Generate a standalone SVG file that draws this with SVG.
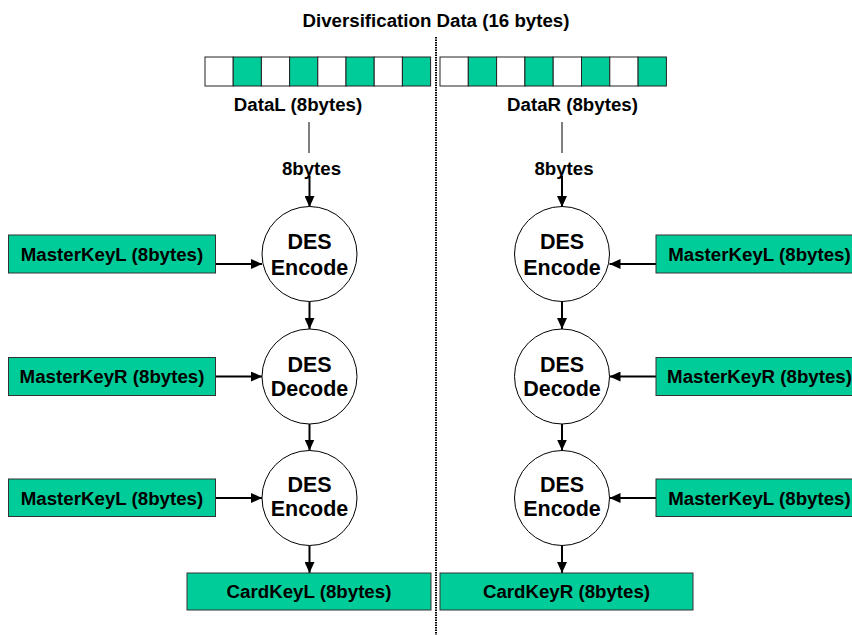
<svg xmlns="http://www.w3.org/2000/svg" width="852" height="635" viewBox="0 0 852 635">
<style>
text{font-family:"Liberation Sans",Arial,sans-serif;font-weight:bold;fill:#000;text-anchor:middle}
.lbl{font-size:18.7px}
.des{font-size:21.5px}
.box{fill:#00CC99;stroke:#333;stroke-width:1}
.cell{stroke:#222;stroke-width:1}
.g{fill:#00CC99}
.w{fill:#fff}
.circ{fill:#fff;stroke:#000;stroke-width:1}
.conn line{stroke:#000;stroke-width:2}
.conn line.thin{stroke-width:1}
</style>
<defs>
<marker id="arr" markerUnits="userSpaceOnUse" markerWidth="12" markerHeight="10" refX="11" refY="5" orient="auto">
<path d="M0,0 L11,5 L0,10 Z" fill="#000"/>
</marker>
</defs>
<rect width="852" height="635" fill="#fff"/>
<text id="title" class="lbl" x="436" y="27">Diversification Data (16 bytes)</text>
<line x1="436" y1="37" x2="436" y2="635" stroke="#000" stroke-width="2" stroke-dasharray="1.5,1"/>

<g id="dataL">
<rect class="cell w" x="205" y="57" width="28.2" height="29"/>
<rect class="cell g" x="233.2" y="57" width="28.2" height="29"/>
<rect class="cell w" x="261.4" y="57" width="28.2" height="29"/>
<rect class="cell g" x="289.6" y="57" width="28.2" height="29"/>
<rect class="cell w" x="317.8" y="57" width="28.2" height="29"/>
<rect class="cell g" x="346" y="57" width="28.2" height="29"/>
<rect class="cell w" x="374.2" y="57" width="28.2" height="29"/>
<rect class="cell g" x="402.4" y="57" width="28.2" height="29"/>
<text class="lbl" x="298" y="111">DataL (8bytes)</text>
</g>
<g id="dataR">
<rect class="cell w" x="440" y="57" width="28.3" height="29"/>
<rect class="cell g" x="468.3" y="57" width="28.3" height="29"/>
<rect class="cell w" x="496.6" y="57" width="28.3" height="29"/>
<rect class="cell g" x="524.9" y="57" width="28.3" height="29"/>
<rect class="cell w" x="553.2" y="57" width="28.3" height="29"/>
<rect class="cell g" x="581.5" y="57" width="28.3" height="29"/>
<rect class="cell w" x="609.8" y="57" width="28.3" height="29"/>
<rect class="cell g" x="638.1" y="57" width="28.3" height="29"/>
<text class="lbl" x="572.5" y="111">DataR (8bytes)</text>
</g>

<g class="conn">
<line class="thin" x1="309" y1="122" x2="309" y2="153"/>
<line x1="309.5" y1="176" x2="309.5" y2="207" marker-end="url(#arr)"/>
<line x1="309.5" y1="301.5" x2="309.5" y2="329" marker-end="url(#arr)"/>
<line x1="309.5" y1="424" x2="309.5" y2="450.5" marker-end="url(#arr)"/>
<line x1="309.5" y1="545.5" x2="309.5" y2="573" marker-end="url(#arr)"/>
<line x1="215" y1="264" x2="262" y2="264" marker-end="url(#arr)"/>
<line x1="215" y1="376.5" x2="262" y2="376.5" marker-end="url(#arr)"/>
<line x1="215" y1="498" x2="262" y2="498" marker-end="url(#arr)"/>
<line class="thin" x1="562" y1="122" x2="562" y2="153"/>
<line x1="562" y1="176" x2="562" y2="207" marker-end="url(#arr)"/>
<line x1="562" y1="301.5" x2="562" y2="329" marker-end="url(#arr)"/>
<line x1="562" y1="424" x2="562" y2="450.5" marker-end="url(#arr)"/>
<line x1="562" y1="545.5" x2="562" y2="573" marker-end="url(#arr)"/>
<line x1="656" y1="264" x2="609.5" y2="264" marker-end="url(#arr)"/>
<line x1="656" y1="376.5" x2="609.5" y2="376.5" marker-end="url(#arr)"/>
<line x1="656" y1="498" x2="609.5" y2="498" marker-end="url(#arr)"/>
</g>

<text class="lbl" x="311.5" y="175">8bytes</text>
<text class="lbl" x="564" y="175">8bytes</text>

<g id="encL1"><circle class="circ" cx="309.5" cy="254" r="47.5"/><text class="des" x="309.5" y="249">DES</text><text class="des" x="309.5" y="274.5">Encode</text></g>
<g id="decL"><circle class="circ" cx="309.5" cy="376.5" r="47.5"/><text class="des" x="309.5" y="371.5">DES</text><text class="des" x="309.5" y="395.5">Decode</text></g>
<g id="encL2"><circle class="circ" cx="309.5" cy="498" r="47.5"/><text class="des" x="309.5" y="492">DES</text><text class="des" x="309.5" y="516">Encode</text></g>
<g id="encR1"><circle class="circ" cx="562" cy="254" r="47.5"/><text class="des" x="562" y="249">DES</text><text class="des" x="562" y="274.5">Encode</text></g>
<g id="decR"><circle class="circ" cx="562" cy="376.5" r="47.5"/><text class="des" x="562" y="371.5">DES</text><text class="des" x="562" y="395.5">Decode</text></g>
<g id="encR2"><circle class="circ" cx="562" cy="498" r="47.5"/><text class="des" x="562" y="492">DES</text><text class="des" x="562" y="516">Encode</text></g>

<g id="mkL1"><rect class="box" x="8.5" y="235" width="207" height="38"/><text class="lbl" x="112" y="260.5">MasterKeyL (8bytes)</text></g>
<g id="mkR1"><rect class="box" x="8.5" y="357.5" width="207" height="38"/><text class="lbl" x="112" y="383">MasterKeyR (8bytes)</text></g>
<g id="mkL2"><rect class="box" x="8.5" y="479" width="207" height="37.5"/><text class="lbl" x="112" y="504.5">MasterKeyL (8bytes)</text></g>
<g id="mkL1r"><rect class="box" x="656" y="235" width="207" height="38"/><text class="lbl" x="759.5" y="260.5">MasterKeyL (8bytes)</text></g>
<g id="mkR1r"><rect class="box" x="656" y="357.5" width="207" height="38"/><text class="lbl" x="759.5" y="383">MasterKeyR (8bytes)</text></g>
<g id="mkL2r"><rect class="box" x="656" y="479" width="207" height="37.5"/><text class="lbl" x="759.5" y="504.5">MasterKeyL (8bytes)</text></g>

<g id="cardL"><rect class="box" x="187" y="573" width="244" height="37"/><text class="lbl" x="309" y="598">CardKeyL (8bytes)</text></g>
<g id="cardR"><rect class="box" x="440" y="573" width="253" height="37"/><text class="lbl" x="566.5" y="598">CardKeyR (8bytes)</text></g>
</svg>
